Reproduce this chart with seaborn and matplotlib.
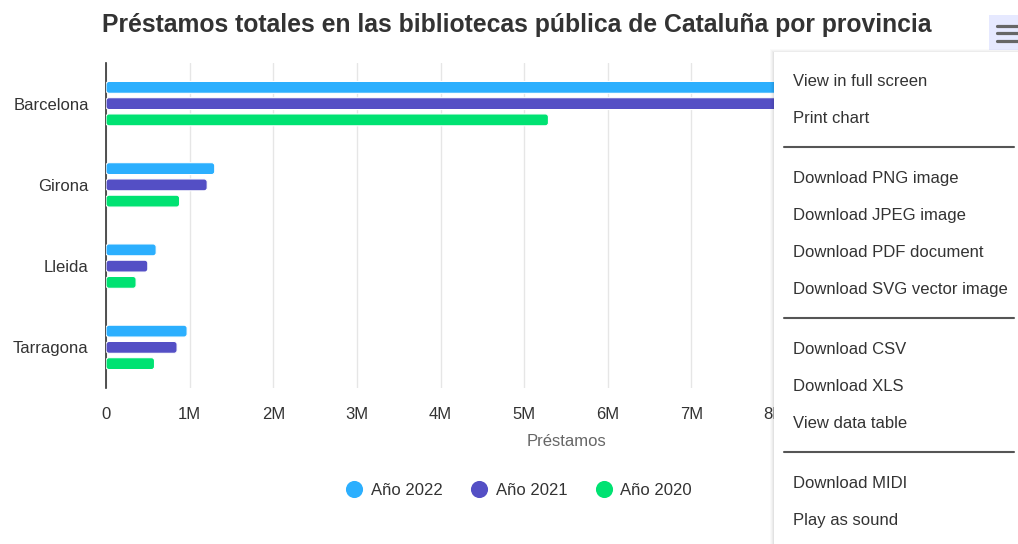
import matplotlib
matplotlib.use("Agg")
import matplotlib.pyplot as plt
import seaborn as sns
import pandas as pd
from matplotlib.patches import Rectangle, FancyBboxPatch
from matplotlib.lines import Line2D

# ---------------- data ----------------
provincias = ["Barcelona", "Girona", "Lleida", "Tarragona"]
series = ["Año 2022", "Año 2021", "Año 2020"]
prestamos_2022 = [10_400_000, 1_300_000, 600_000, 970_000]
prestamos_2021 = [9_600_000, 1_210_000, 500_000, 850_000]
prestamos_2020 = [5_290_000, 880_000, 360_000, 580_000]
colores = ["#2caffe", "#544fc5", "#00e272"]
tick_vals = [i * 1_000_000 for i in range(12)]
# labels from 9M on are hidden behind the export menu in the reference
tick_labels = ["0", "1M", "2M", "3M", "4M", "5M", "6M", "7M", "8M", "", "", ""]
titulo = "Préstamos totales en las bibliotecas pública de Cataluña por provincia"
eje_titulo = "Préstamos"
menu_items = ["View in full screen", "Print chart", None,
              "Download PNG image", "Download JPEG image", "Download PDF document",
              "Download SVG vector image", None,
              "Download CSV", "Download XLS", "View data table", None,
              "Download MIDI", "Play as sound"]

df = pd.DataFrame({
    "provincia": provincias * 3,
    "serie": [series[0]] * 4 + [series[1]] * 4 + [series[2]] * 4,
    "prestamos": prestamos_2022 + prestamos_2021 + prestamos_2020,
})

# ---------------- style ----------------
sns.set_style("white")
plt.rcParams["font.family"] = ["Liberation Sans", "DejaVu Sans"]

W, H = 1018, 544
fig = plt.figure(figsize=(W / 100, H / 100), dpi=100)
fig.patch.set_facecolor("white")

def fx(x):
    return x / W

def fy(y):
    return 1 - y / H

# plot area in pixels: left 106, top 63, right 1026, bottom 388
ax = fig.add_axes([fx(106), fy(388), (1026 - 106) / W, (388 - 63) / H])

sns.barplot(data=df, y="provincia", x="prestamos", hue="serie",
            palette=colores, orient="h", width=0.6, gap=0.27,
            saturation=1, legend=False, ax=ax)

ax.set_xlim(0, 11_000_000)
ax.set_ylim(3.5, -0.5)

# rounded bars
rx = 3 * 11_000_000 / 920
ry = 3 / 81.25
for p in list(ax.patches):
    x, y = p.get_x(), p.get_y()
    w, h = p.get_width(), p.get_height()
    c = p.get_facecolor()
    p.remove()
    fb = FancyBboxPatch((x, y), w, h,
                        boxstyle=f"round,pad=0,rounding_size={rx}",
                        mutation_aspect=ry / rx,
                        facecolor=c, edgecolor="white", linewidth=0.8, zorder=3)
    ax.add_patch(fb)

ax.set_xticks(tick_vals)
ax.set_xticklabels(tick_labels)
ax.tick_params(axis="x", length=0, pad=14, labelsize=12, labelcolor="#333333")
ax.tick_params(axis="y", length=0, pad=12.5, labelsize=12, labelcolor="#333333")
ax.xaxis.grid(True, color="#e6e6e6", linewidth=1)
ax.yaxis.grid(False)
ax.set_axisbelow(True)
for s in ["top", "right", "bottom"]:
    ax.spines[s].set_visible(False)
ax.spines["left"].set_color("#333333")
ax.spines["left"].set_linewidth(1.2)
ax.set_ylabel("")
ax.set_xlabel(eje_titulo, fontsize=12, color="#666666", labelpad=8)

# title
fig.text(fx(517), fy(32), titulo, ha="center", va="baseline",
         fontsize=17.8, fontweight="bold", color="#333333")

# legend
for i, (s, c) in enumerate(zip(series, colores)):
    cx = 354.3 + i * 124.6
    fig.add_artist(Line2D([fx(cx)], [fy(489)], marker="o", markersize=11.3,
                          color=c, linestyle="none", transform=fig.transFigure))
    fig.text(fx(cx + 17), fy(489), s, ha="left", va="center_baseline",
             fontsize=12, color="#333333")

# export button
fig.add_artist(Rectangle((fx(989), fy(50)), (W - 989) / W, 35 / H,
                         transform=fig.transFigure, facecolor="#e6e9ff",
                         edgecolor="none", zorder=10))
for yy in [25.5, 33, 40.5]:
    fig.add_artist(Line2D([fx(997), fx(1020)], [fy(yy), fy(yy)], color="#666666",
                          linewidth=2.3, transform=fig.transFigure, zorder=11,
                          solid_capstyle="round"))

# menu shadow
for k, a in enumerate([0.02, 0.025, 0.03, 0.04, 0.05]):
    off = 5 - k
    fig.add_artist(Rectangle((fx(774 - off + 1), fy(H + 10)), (W - 774 + off) / W,
                             (H + 10 - 52 + off - 2) / H,
                             transform=fig.transFigure, facecolor="black",
                             alpha=a, edgecolor="none", zorder=11))
fig.add_artist(Rectangle((fx(774), fy(H + 10)), (W - 774 + 10) / W, (H + 10 - 52) / H,
                         transform=fig.transFigure, facecolor="white",
                         edgecolor="none", zorder=12))

item_y = [80, 117, 147, 177, 214, 251, 288, 318, 348, 385, 422, 452, 482, 519]
for txt, yy in zip(menu_items, item_y):
    if txt is None:
        fig.add_artist(Line2D([fx(784), fx(1014)], [fy(yy), fy(yy)], color="#555555",
                              linewidth=1.5, transform=fig.transFigure, zorder=13))
    else:
        fig.text(fx(793), fy(yy), txt, ha="left", va="center_baseline",
                 fontsize=12, color="#333333", zorder=13)

fig.savefig("out.png", dpi=100, facecolor="white")
